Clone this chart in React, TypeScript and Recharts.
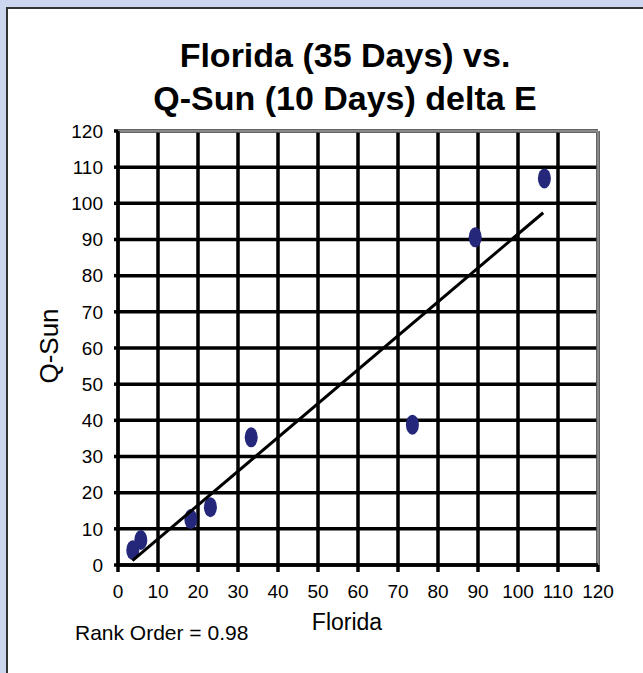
import {
   ScatterChart,
   Scatter,
   XAxis,
   YAxis,
   CartesianGrid,
   ReferenceLine,
} from "recharts"

// readings
const floridaValues = [3.7, 5.7, 18.2, 23.1, 33.3, 73.6, 89.3, 106.6]
const qSunValues = [4.1, 6.9, 12.7, 16.0, 35.3, 38.8, 90.6, 106.9]
const trendFlorida = [3.6, 106.3]
const trendQSun = [1.2, 97.4]
const axisTicks = [0, 10, 20, 30, 40, 50, 60, 70, 80, 90, 100, 110, 120]

const titleLines = ["Florida (35 Days) vs.", "Q-Sun (10 Days) delta E"]
const xLabel = "Florida"
const yLabel = "Q-Sun"
const rankNote = "Rank Order = 0.98"

const FONT = "'Liberation Sans', Arial, Helvetica, sans-serif"

const points = floridaValues.map((x, i) => ({ x, y: qSunValues[i] }))
const trend = trendFlorida.map((x, i) => ({ x, y: trendQSun[i] }))

const Dot = (props: any) => {
   const { cx, cy } = props
   if (cx == null || cy == null) return <g />
   return <ellipse cx={cx} cy={cy} rx={6.5} ry={10} fill="#25287a" />
}

const App = () => {
   return (
      <div
         style={{
            position: "absolute",
            left: 0,
            top: 0,
            width: 643,
            height: 673,
            overflow: "hidden",
            background: "#ccd6ee",
            fontFamily: FONT,
         }}
      >
         <div
            style={{
               position: "absolute",
               left: 6,
               top: 7,
               width: 700,
               height: 700,
               background: "#fff",
               borderTop: "2px solid #333",
               borderLeft: "2px solid #333",
            }}
         />
         <div style={{ position: "absolute", left: 0, top: 0 }}>
            <ScatterChart
               width={643}
               height={673}
               margin={{ top: 131, right: 45, bottom: 78, left: 0 }}
            >
               <CartesianGrid stroke="#000" strokeWidth={3.5} />
               <XAxis
                  type="number"
                  dataKey="x"
                  domain={[0, 120]}
                  ticks={axisTicks}
                  interval={0}
                  height={30}
                  tickSize={7}
                  tickMargin={13}
                  axisLine={{ stroke: "#000", strokeWidth: 3.5 }}
                  tickLine={{ stroke: "#000", strokeWidth: 3.5 }}
                  tick={{ fill: "#000", fontSize: 19, fontFamily: FONT }}
               />
               <YAxis
                  type="number"
                  dataKey="y"
                  domain={[0, 120]}
                  ticks={axisTicks}
                  interval={0}
                  width={118}
                  tickSize={4}
                  tickMargin={11}
                  axisLine={{ stroke: "#000", strokeWidth: 3 }}
                  tickLine={{ stroke: "#000", strokeWidth: 3.5 }}
                  tick={{ fill: "#000", fontSize: 19, fontFamily: FONT }}
               />
               <ReferenceLine y={120} stroke="#888" strokeWidth={3} />
               <ReferenceLine x={120} stroke="#888" strokeWidth={3} />
               <Scatter
                  data={points}
                  shape={Dot}
                  isAnimationActive={false}
               />
               <Scatter
                  data={trend}
                  line={{ stroke: "#000", strokeWidth: 3 }}
                  shape={() => <g />}
                  isAnimationActive={false}
               />
            </ScatterChart>
         </div>
         <svg
            width={643}
            height={673}
            style={{ position: "absolute", left: 0, top: 0, pointerEvents: "none" }}
         >
            <g fontFamily={FONT} fill="#000">
               <text x={345} y={67} fontSize={34} fontWeight="bold" textAnchor="middle">
                  {titleLines[0]}
               </text>
               <text x={345} y={110} fontSize={34} fontWeight="bold" textAnchor="middle">
                  {titleLines[1]}
               </text>
               <text x={347} y={630} fontSize={23} textAnchor="middle">
                  {xLabel}
               </text>
               <text
                  x={0}
                  y={0}
                  fontSize={26}
                  textAnchor="middle"
                  transform="translate(58,346) rotate(-90)"
               >
                  {yLabel}
               </text>
               <text x={75} y={640} fontSize={21}>
                  {rankNote}
               </text>
            </g>
         </svg>
      </div>
   )
}

export default App
